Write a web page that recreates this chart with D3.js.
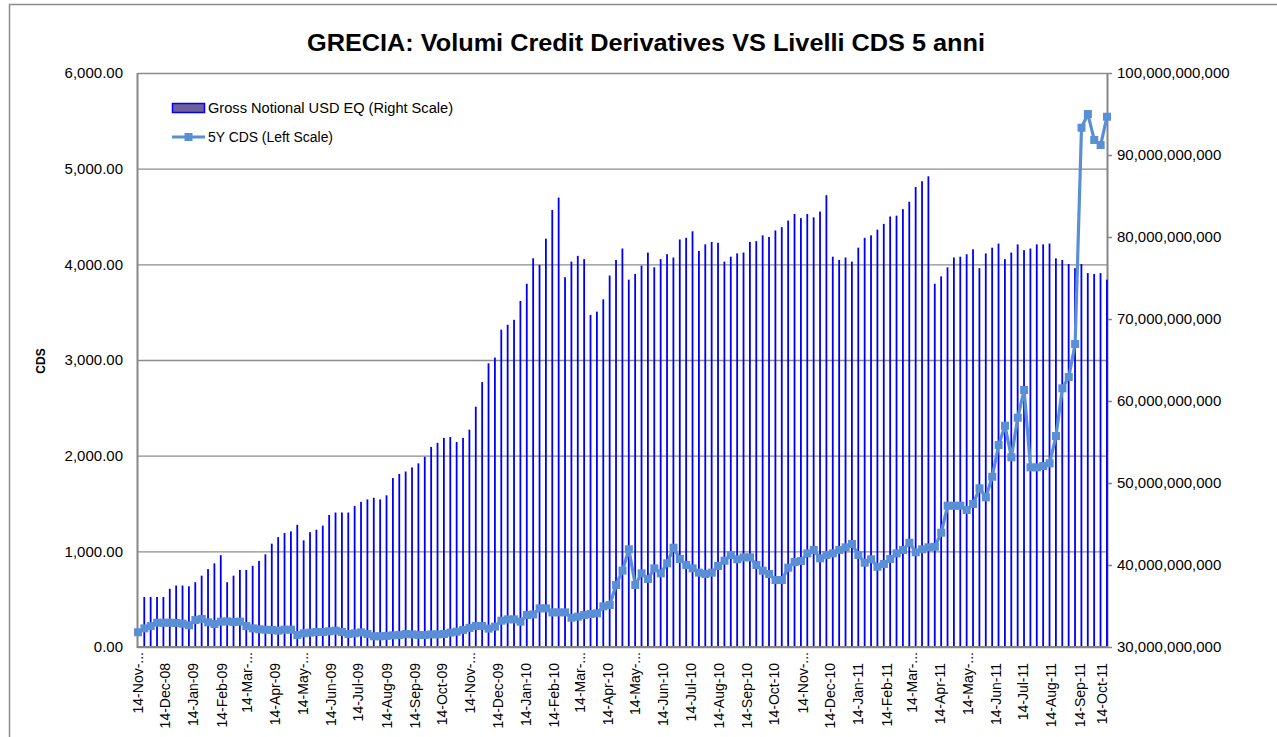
<!DOCTYPE html>
<html><head><meta charset="utf-8">
<script src="https://cdn.jsdelivr.net/npm/d3@7"></script>
<style>body{margin:0;background:#fff;} svg text{font-family:"Liberation Sans",Arial,sans-serif;fill:#000;}</style>
</head><body><svg id="c" width="1277" height="737"></svg>
<script>
// ---- data ----
const dates = [
"2008-11-14","2008-11-21","2008-11-28","2008-12-05","2008-12-12","2008-12-19","2008-12-26",
"2009-01-02","2009-01-09","2009-01-16","2009-01-23","2009-01-30","2009-02-06","2009-02-13","2009-02-20","2009-02-27",
"2009-03-06","2009-03-13","2009-03-20","2009-03-27","2009-04-03","2009-04-10","2009-04-17","2009-04-24",
"2009-05-01","2009-05-08","2009-05-15","2009-05-22","2009-05-29","2009-06-05","2009-06-12","2009-06-19","2009-06-26",
"2009-07-03","2009-07-10","2009-07-17","2009-07-24","2009-07-31","2009-08-07","2009-08-14","2009-08-21","2009-08-28",
"2009-09-04","2009-09-11","2009-09-18","2009-09-25","2009-10-02","2009-10-09","2009-10-16","2009-10-23","2009-10-30",
"2009-11-06","2009-11-13","2009-11-20","2009-11-27","2009-12-04","2009-12-11","2009-12-18","2009-12-25",
"2010-01-01","2010-01-08","2010-01-15","2010-01-22","2010-01-29","2010-02-05","2010-02-12","2010-02-19","2010-02-26",
"2010-03-05","2010-03-12","2010-03-19","2010-03-26","2010-04-02","2010-04-09","2010-04-16","2010-04-23","2010-04-30",
"2010-05-07","2010-05-14","2010-05-21","2010-05-28","2010-06-04","2010-06-11","2010-06-18","2010-06-25",
"2010-07-02","2010-07-09","2010-07-16","2010-07-23","2010-07-30","2010-08-06","2010-08-13","2010-08-20","2010-08-27",
"2010-09-03","2010-09-10","2010-09-17","2010-09-24","2010-10-01","2010-10-08","2010-10-15","2010-10-22","2010-10-29",
"2010-11-05","2010-11-12","2010-11-19","2010-11-26","2010-12-03","2010-12-10","2010-12-17","2010-12-24","2010-12-31",
"2011-01-07","2011-01-14","2011-01-21","2011-01-28","2011-02-04","2011-02-11","2011-02-18","2011-02-25",
"2011-03-04","2011-03-11","2011-03-18","2011-03-25","2011-04-01","2011-04-08","2011-04-15","2011-04-22","2011-04-29",
"2011-05-06","2011-05-13","2011-05-20","2011-05-27","2011-06-03","2011-06-10","2011-06-17","2011-06-24",
"2011-07-01","2011-07-08","2011-07-15","2011-07-22","2011-07-29","2011-08-05","2011-08-12","2011-08-19","2011-08-26",
"2011-09-02","2011-09-09","2011-09-16","2011-09-23","2011-09-30","2011-10-07","2011-10-14"
];
// 5Y CDS (left scale)
const cds5y = [
154,195,219,254,254,254,251,244,227,282,293,258,240,265,268,261,265,219,195,185,
181,178,171,181,181,125,143,150,157,157,164,171,157,136,143,153,136,112,112,116,
122,125,136,132,125,125,132,132,136,150,160,178,199,220,220,192,213,275,289,289,
265,334,341,404,404,362,362,362,306,317,334,345,352,425,439,648,798,1021,648,770,
711,822,770,875,1038,920,857,822,777,763,777,847,902,962,917,937,937,857,798,763,
700,700,829,888,899,979,1014,927,962,979,1014,1042,1077,962,881,917,839,868,920,979,
1014,1090,990,1021,1042,1048,1195,1477,1477,1477,1432,1495,1659,1565,1780,2111,2313,1983,2397,2686,
1878,1878,1892,1920,2205,2704,2822,3167,5428,5571,5300,5247,5543
];
// Gross Notional USD EQ, billions (right scale); first week not shown
const grossNotionalBn = [
null,36.1,36.1,36.1,36.1,37.1,37.5,37.5,37.4,37.9,38.7,39.5,40.2,41.2,37.9,38.7,39.4,39.4,39.9,40.5,
41.3,42.6,43.4,43.9,44.1,44.9,43.0,44.0,44.3,44.8,46.1,46.4,46.4,46.4,47.2,47.7,48.0,48.2,48.0,48.5,
50.6,51.1,51.4,51.9,52.4,53.2,54.4,54.9,55.5,55.6,55.0,55.5,56.5,59.3,62.3,64.6,65.3,68.7,69.3,69.9,
72.2,74.3,77.4,76.6,79.8,83.3,84.8,75.1,77.0,77.7,77.3,70.5,70.9,72.4,75.3,77.2,78.6,74.8,75.5,76.5,
78.1,76.3,77.3,77.9,77.5,79.7,79.9,80.7,78.3,79.1,79.4,79.3,77.0,77.6,78.0,78.1,79.4,79.5,80.2,80.0,
80.8,81.2,82.0,82.8,82.3,82.8,82.4,83.1,85.1,77.6,77.2,77.5,77.0,78.7,79.9,80.2,80.9,81.6,82.5,82.6,
83.4,84.3,86.1,86.8,87.4,74.3,75.2,76.3,77.5,77.6,77.9,78.5,76.2,78.0,78.7,79.2,77.3,78.1,79.1,78.4,
78.6,79.1,79.1,79.2,77.4,77.2,76.7,76.2,76.7,75.6,75.5,75.6,74.8
];
const xTickLabels = [
"14-Nov-...","14-Dec-08","14-Jan-09","14-Feb-09","14-Mar-...","14-Apr-09","14-May-...","14-Jun-09","14-Jul-09",
"14-Aug-09","14-Sep-09","14-Oct-09","14-Nov-...","14-Dec-09","14-Jan-10","14-Feb-10","14-Mar-...","14-Apr-10",
"14-May-...","14-Jun-10","14-Jul-10","14-Aug-10","14-Sep-10","14-Oct-10","14-Nov-...","14-Dec-10","14-Jan-11",
"14-Feb-11","14-Mar-...","14-Apr-11","14-May-...","14-Jun-11","14-Jul-11","14-Aug-11","14-Sep-11","14-Oct-11"
];
const yLeftTicks = [0,1000,2000,3000,4000,5000,6000];
const yRightTicksBn = [30,40,50,60,70,80,90,100];
const titleText = "GRECIA: Volumi Credit Derivatives VS Livelli CDS 5 anni";
const legendLabels = ["Gross Notional USD EQ  (Right Scale)", "5Y CDS (Left Scale)"];
const yTitle = "CDS";

// ---- drawing ----
const svg = d3.select("#c");
const P = {l:138, r:1107, t:73, b:647};
const parse = d3.timeParse("%Y-%m-%d");
const xd = dates.map(parse);
const x = d3.scaleTime().domain([xd[0], xd[xd.length-1]]).range([P.l, P.r]);
const yL = d3.scaleLinear().domain([0,6000]).range([P.b, P.t]);
const yR = d3.scaleLinear().domain([30,100]).range([P.b, P.t]);
const axisCol = "#868686", lineCol = "#5a8fd5";

svg.append("rect").attr("x",9.5).attr("y",4.5).attr("width",1300).attr("height",800)
  .attr("fill","none").attr("stroke","#8c8c8c").attr("stroke-width",1.5);

// left axis + gridlines
const gL = svg.append("g").attr("transform",`translate(${P.l},0)`)
  .call(d3.axisLeft(yL).tickValues(yLeftTicks).tickFormat(d3.format(",.2f"))
    .tickSizeInner(-(P.r-P.l)).tickSizeOuter(0).tickPadding(15));
gL.select(".domain").remove();
gL.selectAll(".tick line").attr("stroke","#8c8c8c").attr("stroke-width",1.3);
gL.selectAll(".tick text").attr("font-size",15).attr("font-family","Liberation Sans, Arial");

// right axis
const gR = svg.append("g").attr("transform",`translate(${P.r},0)`)
  .call(d3.axisRight(yR).tickValues(yRightTicksBn).tickFormat(v=>d3.format(",")(v*1e9))
    .tickSizeInner(5).tickSizeOuter(0).tickPadding(5));
gR.select(".domain").attr("stroke",axisCol).attr("stroke-width",2);
gR.selectAll(".tick line").attr("stroke",axisCol).attr("stroke-width",1.5);
gR.selectAll(".tick text").attr("font-size",15).attr("font-family","Liberation Sans, Arial");

// bars
const barData = xd.map((d,i)=>({d, v:grossNotionalBn[i]})).filter(o=>o.v!=null);
svg.append("g").selectAll("rect").data(barData).join("rect")
  .attr("x",o=>x(o.d)-1).attr("width",1.8)
  .attr("y",o=>yR(o.v)).attr("height",o=>P.b-yR(o.v))
  .attr("fill","#0000f5");

// left & bottom axis lines
svg.append("line").attr("x1",P.l-0.5).attr("x2",P.l-0.5).attr("y1",P.t).attr("y2",P.b+1)
  .attr("stroke",axisCol).attr("stroke-width",2);
svg.append("line").attr("x1",P.l-1).attr("x2",P.r+1).attr("y1",P.b).attr("y2",P.b)
  .attr("stroke",axisCol).attr("stroke-width",2);

// CDS line
const pts = xd.map((d,i)=>({d, v:cds5y[i]}));
svg.append("path").datum(pts)
  .attr("d", d3.line().x(o=>x(o.d)).y(o=>yL(o.v)))
  .attr("fill","none").attr("stroke",lineCol).attr("stroke-width",3.2).attr("stroke-linejoin","round");
svg.append("g").selectAll("rect").data(pts).join("rect")
  .attr("x",o=>x(o.d)-4).attr("y",o=>yL(o.v)-4).attr("width",8).attr("height",8)
  .attr("fill",lineCol);

// x tick labels (14th of each month)
const tickDates = d3.timeMonth.range(new Date(2008,10,1), new Date(2011,10,1)).map(d=>d3.timeDay.offset(d,13));
svg.append("g").selectAll("text").data(tickDates).join("text")
  .attr("transform",(d,i)=>`translate(${Math.min(x(d),1102)},${xTickLabels[i].endsWith("...")?652:663}) rotate(-90)`)
  .attr("text-anchor","end").attr("dy","0.35em").attr("font-size",14)
  .text((d,i)=>xTickLabels[i]);

// title
svg.append("text").attr("x",646).attr("y",51).attr("text-anchor","middle")
  .attr("font-size",24).attr("font-weight","bold")
  .attr("textLength",678).attr("lengthAdjust","spacingAndGlyphs").text(titleText);

// y title
svg.append("text").attr("transform","translate(41,361) rotate(-90)")
  .attr("text-anchor","middle").attr("dy","0.35em").attr("font-size",12).attr("font-weight","bold").text(yTitle);

// legend
const lg = svg.append("g");
lg.append("rect").attr("x",172.5).attr("y",103.5).attr("width",32).attr("height",9)
  .attr("fill","#6f6096").attr("stroke","#0000ff").attr("stroke-width",1.5);
lg.append("text").attr("x",208).attr("y",113).attr("font-size",14)
  .attr("textLength",245).attr("lengthAdjust","spacingAndGlyphs").text(legendLabels[0]);
lg.append("line").attr("x1",172).attr("x2",205).attr("y1",137).attr("y2",137)
  .attr("stroke",lineCol).attr("stroke-width",3);
lg.append("rect").attr("x",184.5).attr("y",133).attr("width",8).attr("height",8).attr("fill",lineCol);
lg.append("text").attr("x",208).attr("y",142).attr("font-size",14)
  .attr("textLength",125).attr("lengthAdjust","spacingAndGlyphs").text(legendLabels[1]);
</script></body></html>
